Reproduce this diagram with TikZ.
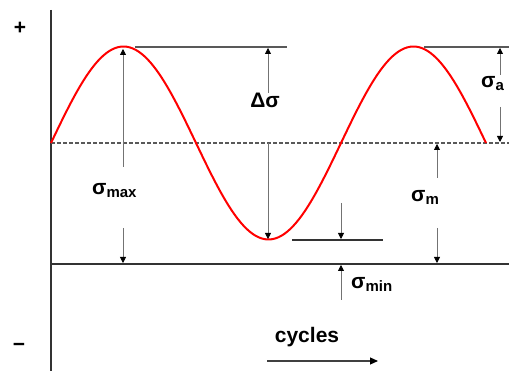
\documentclass[tikz,border=0pt]{standalone}
\usepackage{fontspec}
\setmainfont{Liberation Sans}
\usetikzlibrary{arrows.meta}
\newcommand{\sigsub}[1]{\raisebox{-3pt}{\fontsize{15}{15}\selectfont #1}}

\begin{document}
\begin{tikzpicture}[x=1pt,y=-1pt,
  axis/.style={draw=black!80,line width=1.4pt},
  level/.style={draw=black!65,line width=1.8pt},
  mean/.style={draw=black!65,line width=1.4pt,dash pattern=on 4pt off 2pt},
  wave/.style={draw=red,line width=2pt},
  dim/.style={draw=black!55,line width=0.8pt,-{Triangle[length=6pt,width=6pt,color=black]}},
  lbl/.style={font=\fontsize{21}{24}\selectfont\bfseries,inner sep=0pt,anchor=base west},
]
  \useasboundingbox (0,0) rectangle (509,371);

  % axes and mean line
  \coordinate (ytop) at (51,10);
  \coordinate (ybot) at (51,371);
  \coordinate (zl) at (51,264);
  \coordinate (zr) at (509,264);
  \coordinate (ml) at (51,143);
  \coordinate (mr) at (509,143);
  \draw[axis] (ytop) -- (ybot);
  \draw[axis] (zl) -- (zr);
  \draw[mean] (ml) -- (mr);

  \node[lbl,anchor=center] (plus) at (20,28) {+};
  \node[lbl,anchor=center] (minus) at (19,347) {−};

  % stress cycle
  \draw[wave] plot[domain=51:486,samples=150] (\x,{143-96.5*sin((\x-51)/290*360)});

  % level lines
  \coordinate (pka) at (135,47);
  \coordinate (pkb) at (287,47);
  \coordinate (pkc) at (424,47);
  \coordinate (pkd) at (509,47);
  \coordinate (tra) at (292,240);
  \coordinate (trb) at (383,240);
  \draw[level] (pka) -- (pkb);
  \draw[level] (pkc) -- (pkd);
  \draw[level,draw=black!80,line width=1.4pt] (tra) -- (trb);

  % labels
  \node[lbl,anchor=base] (dsig) at (265,108) {Δσ};
  \node[lbl] (smax) at (92,195) {σ\sigsub{max}};
  \node[lbl] (samp) at (481,88) {σ\sigsub{a}};
  \node[lbl] (smean) at (411,202) {σ\sigsub{m}};
  \node[lbl] (smin) at (351,289) {σ\sigsub{min}};
  \node[lbl,anchor=base] (cyc) at (307,343) {cycles};

  % dimension arrows
  \coordinate (mxa) at (123,167);  \coordinate (mxb) at (123,49);
  \coordinate (mxc) at (123,228);  \coordinate (mxd) at (123,263);
  \draw[dim] (mxa) -- (mxb);
  \draw[dim] (mxc) -- (mxd);

  \coordinate (dsa) at (268,93);   \coordinate (dsb) at (268,48);
  \coordinate (dsc) at (268,143);  \coordinate (dsd) at (268,239);
  \draw[dim] (dsa) -- (dsb);
  \draw[dim] (dsc) -- (dsd);

  \coordinate (saa) at (500,75);   \coordinate (sab) at (500,48);
  \coordinate (sac) at (500,107);  \coordinate (sad) at (500,142);
  \draw[dim] (saa) -- (sab);
  \draw[dim] (sac) -- (sad);

  \coordinate (sma) at (437,178);  \coordinate (smb) at (437,144);
  \coordinate (smc) at (437,228);  \coordinate (smd) at (437,263);
  \draw[dim] (sma) -- (smb);
  \draw[dim] (smc) -- (smd);

  \coordinate (sna) at (341,203);  \coordinate (snb) at (341,239);
  \coordinate (snc) at (341,300);  \coordinate (snd) at (341,265);
  \draw[dim] (sna) -- (snb);
  \draw[dim] (snc) -- (snd);

  \coordinate (cya) at (267,361);  \coordinate (cyb) at (378,361);
  \draw[dim,draw=black!75,line width=1.1pt,-{Triangle[length=8pt,width=7pt,color=black]}] (cya) -- (cyb);
\end{tikzpicture}
\end{document}
